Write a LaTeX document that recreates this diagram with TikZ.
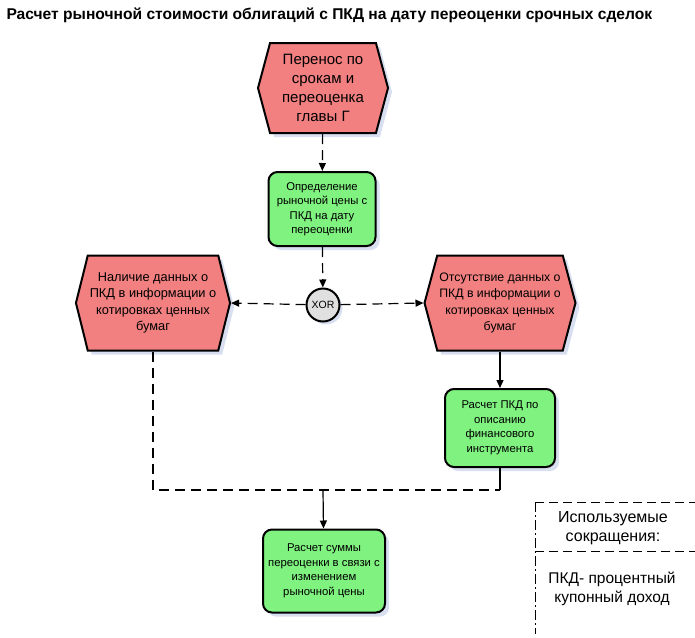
\documentclass[tikz,border=0pt]{standalone}
\usepackage{fontspec}
\setmainfont{Liberation Sans}
\usetikzlibrary{shapes.symbols,shadows,arrows.meta}
\definecolor{evred}{RGB}{242,128,128}
\definecolor{fngreen}{RGB}{128,242,128}
\definecolor{shade}{RGB}{200,210,235}
\begin{document}
\begin{tikzpicture}[x=1pt,y=-1pt,>={Triangle[length=8pt,width=7pt]}]
        \tikzstyle{event}=[shape=signal,signal to=west and east,draw=black,line width=2pt,fill=evred,
          align=center,inner sep=2pt,drop shadow={shadow xshift=4pt,shadow yshift=-4pt,fill=shade,opacity=0.7}]
        \tikzstyle{func}=[rectangle,rounded corners=9pt,draw=black,line width=2pt,fill=fngreen,
          align=center,inner sep=2pt,font=\fontsize{11.3}{14.5}\selectfont,
          drop shadow={shadow xshift=4pt,shadow yshift=-4pt,fill=shade,opacity=0.7}]
        \tikzstyle{flow}=[draw,line width=1.2pt,dash pattern=on 10pt off 6pt]
        \tikzstyle{solidflow}=[draw,line width=1.2pt]
        \useasboundingbox (0,0) rectangle (695,637);

        \node[anchor=west,font=\bfseries\fontsize{15.6}{18}\selectfont] (title) at (3,15)
          {Расчет рыночной стоимости облигаций с ПКД на дату переоценки срочных сделок};

        \node[event,minimum width=130pt,minimum height=90pt,signal pointer angle=150,
          font=\fontsize{15}{19}\selectfont] (ev1) at (323,88)
          {Перенос по\\срокам и\\переоценка\\главы Г};
        \node[func,minimum width=107pt,minimum height=74pt] (fn1) at (322,209)
          {Определение\\рыночной цены с\\ПКД на дату\\переоценки};
        \node[circle,draw=black,line width=2pt,fill=black!12,minimum size=33pt,inner sep=0pt,
          font=\fontsize{10.5}{12}\selectfont,
          drop shadow={shadow xshift=3pt,shadow yshift=-3pt,fill=shade,opacity=0.7}] (xor1) at (323,305) {XOR};
        \node[event,minimum width=143pt,minimum height=95pt,signal pointer angle=152,
          font=\fontsize{12.8}{16.5}\selectfont] (ev2) at (153,303)
          {Наличие данных о\\ПКД в информации о\\котировках ценных\\бумаг};
        \node[event,minimum width=150pt,minimum height=95pt,signal pointer angle=150,
          font=\fontsize{12.3}{16.5}\selectfont] (ev3) at (500,303)
          {Отсутствие данных о\\ПКД в информации о\\котировках ценных\\бумаг};
        \node[func,minimum width=110pt,minimum height=78pt] (fn2) at (500,428)
          {Расчет ПКД по\\описанию\\финансового\\инструмента};
        \node[func,minimum width=122pt,minimum height=83pt] (fn3) at (324,571)
          {Расчет суммы\\переоценки в связи с\\изменением\\рыночной цены};

        \coordinate (join) at (323,490);
        \coordinate (joinR) at (fn2.south |- join);

        \path[flow,->] (ev1) -- (fn1);
        \path[flow,->] (fn1) -- (xor1);
        \path[flow,->] (xor1) -- (ev2.east);
        \path[flow,->] (xor1) -- (ev3.west);
        \path[solidflow,->] (ev3) -- (fn2);
        \path[flow] (ev2.south) |- (joinR);
        \path[solidflow] (fn2.south) -- (joinR);
        \path[solidflow,->] (join) -- (fn3);

        % legend
        \draw[line width=0.9pt,dash pattern=on 10pt off 3pt on 2pt off 3pt] (535,502) -- (535,634);
        \draw[line width=0.9pt,dash pattern=on 9pt off 5pt] (535,502) -- (695,502);
        \draw[line width=0.9pt,dash pattern=on 9pt off 5pt] (535,551) -- (695,551);
        \node[align=center,font=\fontsize{16}{19}\selectfont] (legend1) at (613,528)
          {Используемые\\сокращения:};
        \node[align=center,font=\fontsize{15.5}{19}\selectfont] (legend2) at (612,589)
          {ПКД- процентный\\купонный доход};
\end{tikzpicture}
\end{document}
